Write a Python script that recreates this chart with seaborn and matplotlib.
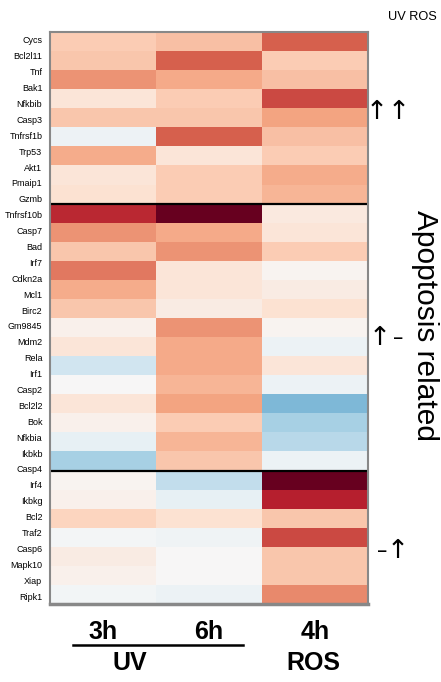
import numpy as np
import pandas as pd
import seaborn as sns
import matplotlib.pyplot as plt

# gene labels (left side); the heatmap itself has 30 rows
genes = ['Cycs', 'Bcl2l11', 'Tnf', 'Bak1', 'Nfkbib', 'Casp3', 'Tnfrsf1b', 'Trp53',
         'Akt1', 'Pmaip1', 'Gzmb',
         'Tnfrsf10b', 'Casp7', 'Bad', 'Irf7', 'Cdkn2a', 'Mcl1', 'Birc2', 'Gm9845',
         'Mdm2', 'Rela', 'Irf1', 'Casp2', 'Bcl2l2', 'Bok', 'Nfkbia', 'Ikbkb', 'Casp4',
         'Irf4', 'Ikbkg', 'Bcl2', 'Traf2', 'Casp6', 'Mapk10', 'Xiap', 'Ripk1']

conditions = ['UV 3h', 'UV 6h', 'ROS 4h']
hour_labels = ['3h', '6h', '4h']

uv_3h = [0.25, 0.28, 0.45, 0.13, 0.28, -0.05, 0.37, 0.13, 0.15,
         0.75, 0.45, 0.28, 0.53, 0.37, 0.28, 0.05, 0.13, -0.20, 0.00, 0.13, 0.05, -0.08, -0.33,
         0.03, 0.05, 0.22, -0.02, 0.08, 0.05, -0.03]
uv_6h = [0.30, 0.60, 0.38, 0.25, 0.28, 0.60, 0.13, 0.25, 0.25,
         1.00, 0.38, 0.45, 0.13, 0.13, 0.08, 0.45, 0.38, 0.38, 0.34, 0.40, 0.25, 0.34, 0.28,
         -0.25, -0.08, 0.15, -0.04, 0.00, 0.00, -0.06]
ros_4h = [0.60, 0.25, 0.30, 0.66, 0.40, 0.30, 0.25, 0.37, 0.34,
          0.10, 0.13, 0.25, 0.03, 0.08, 0.15, 0.03, -0.06, 0.13, -0.06, -0.45, -0.33, -0.28, -0.06,
          1.00, 0.78, 0.28, 0.66, 0.28, 0.28, 0.48]

group_breaks = [9, 23]

df = pd.DataFrame({'UV 3h': uv_3h, 'UV 6h': uv_6h, 'ROS 4h': ros_4h})

plt.rcParams['font.family'] = ['Liberation Sans', 'DejaVu Sans']

fig = plt.figure(figsize=(4.41, 6.82), dpi=100)
ax = fig.add_axes([50 / 441, 78 / 682, 318 / 441, 572 / 682])

sns.heatmap(df, cmap='RdBu_r', vmin=-1, vmax=1, cbar=False, ax=ax,
            xticklabels=False, yticklabels=False)

# labels are spread evenly over the full height
n_rows = len(df)
label_pos = (np.arange(len(genes)) + 0.5) * n_rows / len(genes)
ax.set_yticks(label_pos)
ax.set_yticklabels(genes, fontsize=6.5)
ax.tick_params(axis='y', length=0, pad=5.5)
ax.set_ylabel('')
ax.set_xlabel('')

for b in group_breaks:
    ax.axhline(b, color='black', lw=1.6)

for side, sp in ax.spines.items():
    sp.set_visible(True)
    sp.set_color('#888888')
    sp.set_linewidth(1.5)
ax.spines['bottom'].set_linewidth(2.5)

# bottom labels: hours under each column, then treatment
xt = ax.get_xaxis_transform()
for i, lab in enumerate(hour_labels):
    x_fig = fig.transFigure.inverted().transform(ax.transData.transform((i + 0.5, 0)))[0]
    fig.text(x_fig, 1 - 632 / 682, lab, ha='center', va='center', fontsize=18, fontweight='bold')
fig.text(130 / 441, 1 - 663 / 682, 'UV', ha='center', va='center', fontsize=18, fontweight='bold')
fig.text(313 / 441, 1 - 663 / 682, 'ROS', ha='center', va='center', fontsize=18, fontweight='bold')
fig.add_artist(plt.Line2D([73 / 441, 243 / 441], [1 - 645 / 682, 1 - 645 / 682],
                          color='black', lw=1.8))

# right side annotations
fig.text(412 / 441, 1 - 17 / 682, 'UV ROS', ha='center', va='center', fontsize=9.2)
arrow_font = ['DejaVu Sans']
marks = [('↑', 377, 112), ('↑', 399, 112),
         ('↑', 380, 338), ('–', 398, 338),
         ('–', 382, 551), ('↑', 398, 551)]
for sym, mx, my in marks:
    fig.text(mx / 441, 1 - my / 682, sym, ha='center', va='center',
             fontsize=19 if sym == '↑' else 15, family=arrow_font)
fig.text(425 / 441, 1 - 326 / 682, 'Apoptosis related', rotation=-90, ha='center', va='center',
         fontsize=21.5)

fig.savefig('out.png', dpi=100)
